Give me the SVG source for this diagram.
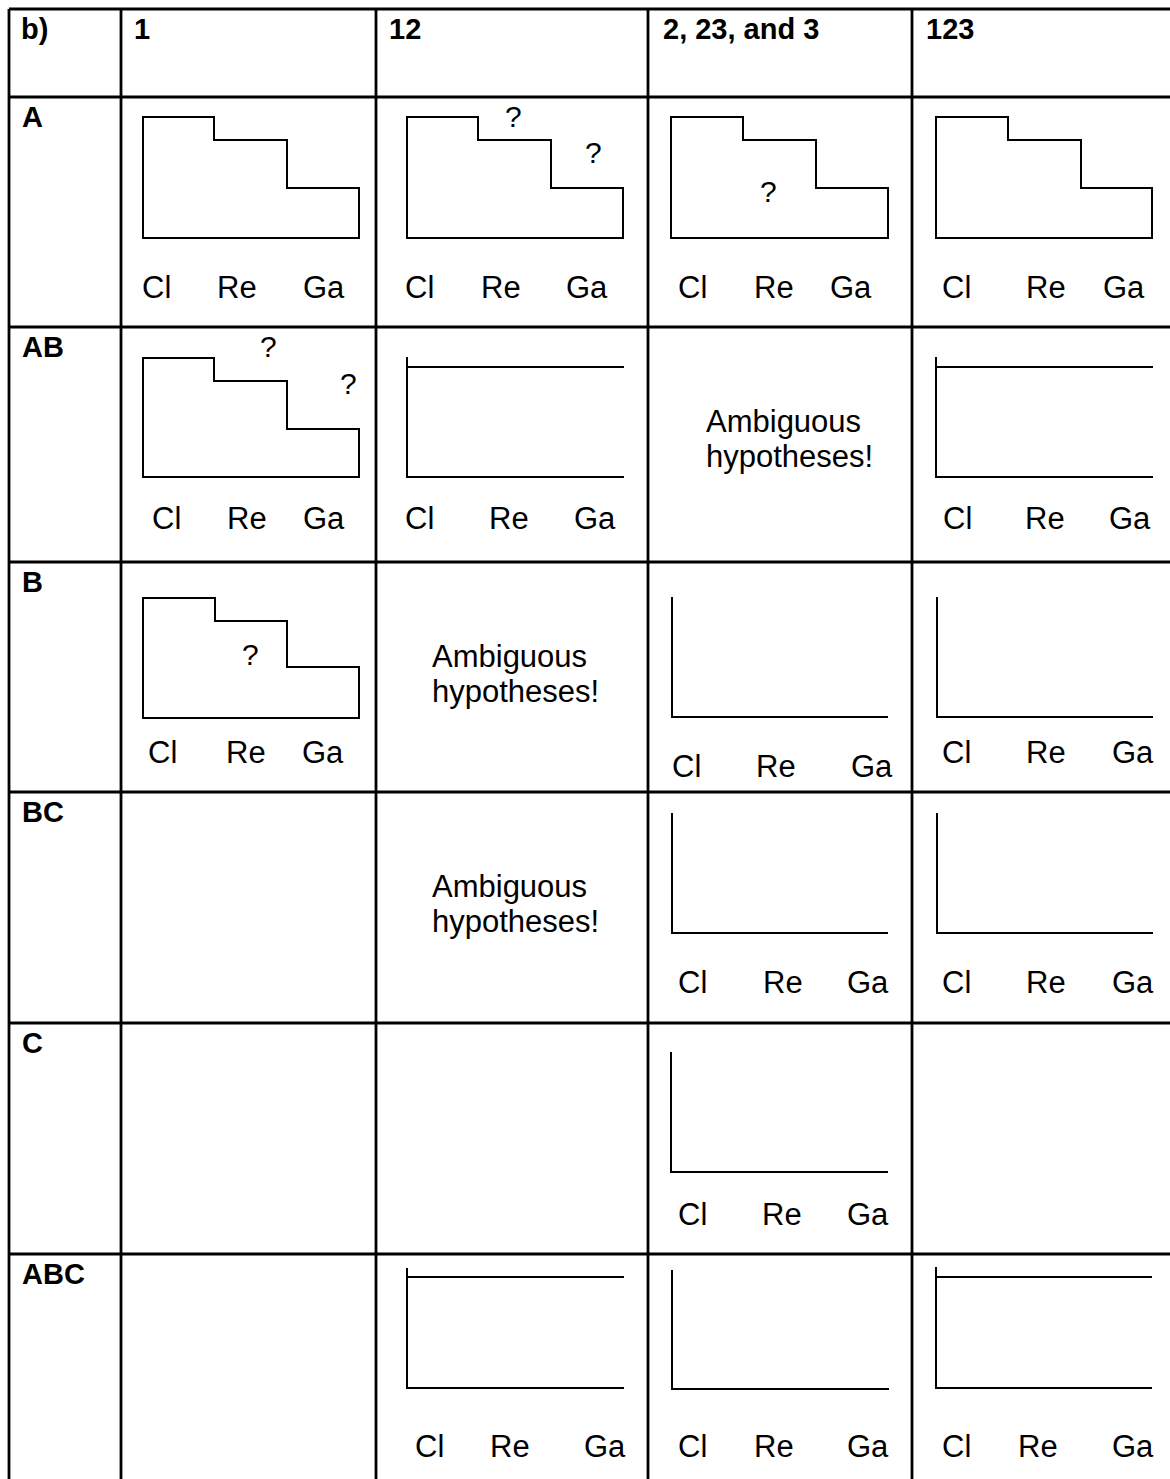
<svg xmlns="http://www.w3.org/2000/svg" width="1170" height="1479" viewBox="0 0 1170 1479">
<style>
.grid{stroke:#000;stroke-width:2.8;fill:none}
.shape{stroke:#000;stroke-width:2;fill:none}
.hd{font-family:"Liberation Sans",Arial,sans-serif;font-weight:bold;font-size:29px;fill:#000}
.ax{font-family:"Liberation Sans",Arial,sans-serif;font-size:31px;fill:#000}
.q{font-family:"Liberation Sans",Arial,sans-serif;font-size:30px;fill:#000}
.amb{font-family:"Liberation Sans",Arial,sans-serif;font-size:31px;fill:#000}
</style>
<rect x="0" y="0" width="1170" height="1479" fill="#fff"/>
<g id="grid" class="grid">
<path d="M9,9V1485M121,9V1485M376,9V1485M648,9V1485M912,9V1485"/>
<path d="M9,9H1175M9,97H1175M9,327H1175M9,562H1175M9,792H1175M9,1023H1175M9,1254H1175"/>
</g>
<g id="headers">
<text class="hd" x="21" y="39">b)</text>
<text class="hd" x="134" y="39">1</text>
<text class="hd" x="389" y="39">12</text>
<text class="hd" x="663" y="39">2, 23, and 3</text>
<text class="hd" x="926" y="39">123</text>
</g>
<g id="row-labels">
<text class="hd" x="22" y="127">A</text>
<text class="hd" x="22" y="357">AB</text>
<text class="hd" x="22" y="592">B</text>
<text class="hd" x="22" y="822">BC</text>
<text class="hd" x="22" y="1053">C</text>
<text class="hd" x="22" y="1284">ABC</text>
</g>
<g id="cell-A-1">
<path class="shape" d="M143,117H214V140H287V188H359V238H143Z"/>
<text class="ax" x="142" y="298">Cl</text><text class="ax" x="217" y="298">Re</text><text class="ax" x="303" y="298">Ga</text>
</g>
<g id="cell-A-12">
<path class="shape" d="M407,117H478V140H551V188H623V238H407Z"/>
<text class="q" x="505" y="127">?</text><text class="q" x="585" y="163">?</text>
<text class="ax" x="405" y="298">Cl</text><text class="ax" x="481" y="298">Re</text><text class="ax" x="566" y="298">Ga</text>
</g>
<g id="cell-A-23">
<path class="shape" d="M671,117H743V140H816V188H888V238H671Z"/>
<text class="q" x="760" y="202">?</text>
<text class="ax" x="678" y="298">Cl</text><text class="ax" x="754" y="298">Re</text><text class="ax" x="830" y="298">Ga</text>
</g>
<g id="cell-A-123">
<path class="shape" d="M936,117H1008V140H1081V188H1152V238H936Z"/>
<text class="ax" x="942" y="298">Cl</text><text class="ax" x="1026" y="298">Re</text><text class="ax" x="1103" y="298">Ga</text>
</g>
<g id="cell-AB-1">
<path class="shape" d="M143,358H214V381H287V429H359V477H143Z"/>
<text class="q" x="260" y="357">?</text><text class="q" x="340" y="394">?</text>
<text class="ax" x="152" y="529">Cl</text><text class="ax" x="227" y="529">Re</text><text class="ax" x="303" y="529">Ga</text>
</g>
<g id="cell-AB-12">
<path class="shape" d="M407,357V477H624M407,367H624"/>
<text class="ax" x="405" y="529">Cl</text><text class="ax" x="489" y="529">Re</text><text class="ax" x="574" y="529">Ga</text>
</g>
<g id="cell-AB-23">
<text class="amb" x="706" y="432">Ambiguous</text><text class="amb" x="706" y="467">hypotheses!</text>
</g>
<g id="cell-AB-123">
<path class="shape" d="M936,357V477H1153M936,367H1153"/>
<text class="ax" x="943" y="529">Cl</text><text class="ax" x="1025" y="529">Re</text><text class="ax" x="1109" y="529">Ga</text>
</g>
<g id="cell-B-1">
<path class="shape" d="M143,598H215V621H287V667H359V718H143Z"/>
<text class="q" x="242" y="665">?</text>
<text class="ax" x="148" y="763">Cl</text><text class="ax" x="226" y="763">Re</text><text class="ax" x="302" y="763">Ga</text>
</g>
<g id="cell-B-12">
<text class="amb" x="432" y="667">Ambiguous</text><text class="amb" x="432" y="702">hypotheses!</text>
</g>
<g id="cell-B-23">
<path class="shape" d="M672,597V717H888"/>
<text class="ax" x="672" y="777">Cl</text><text class="ax" x="756" y="777">Re</text><text class="ax" x="851" y="777">Ga</text>
</g>
<g id="cell-B-123">
<path class="shape" d="M937,597V717H1153"/>
<text class="ax" x="942" y="763">Cl</text><text class="ax" x="1026" y="763">Re</text><text class="ax" x="1112" y="763">Ga</text>
</g>
<g id="cell-BC-12">
<text class="amb" x="432" y="897">Ambiguous</text><text class="amb" x="432" y="932">hypotheses!</text>
</g>
<g id="cell-BC-23">
<path class="shape" d="M672,813V933H888"/>
<text class="ax" x="678" y="993">Cl</text><text class="ax" x="763" y="993">Re</text><text class="ax" x="847" y="993">Ga</text>
</g>
<g id="cell-BC-123">
<path class="shape" d="M937,813V933H1153"/>
<text class="ax" x="942" y="993">Cl</text><text class="ax" x="1026" y="993">Re</text><text class="ax" x="1112" y="993">Ga</text>
</g>
<g id="cell-C-23">
<path class="shape" d="M671,1052V1172H888"/>
<text class="ax" x="678" y="1225">Cl</text><text class="ax" x="762" y="1225">Re</text><text class="ax" x="847" y="1225">Ga</text>
</g>
<g id="cell-ABC-12">
<path class="shape" d="M407,1268V1388H624M407,1277H624"/>
<text class="ax" x="415" y="1457">Cl</text><text class="ax" x="490" y="1457">Re</text><text class="ax" x="584" y="1457">Ga</text>
</g>
<g id="cell-ABC-23">
<path class="shape" d="M672,1270V1389H889"/>
<text class="ax" x="678" y="1457">Cl</text><text class="ax" x="754" y="1457">Re</text><text class="ax" x="847" y="1457">Ga</text>
</g>
<g id="cell-ABC-123">
<path class="shape" d="M936,1267V1388H1152M936,1277H1152"/>
<text class="ax" x="942" y="1457">Cl</text><text class="ax" x="1018" y="1457">Re</text><text class="ax" x="1112" y="1457">Ga</text>
</g>
</svg>
